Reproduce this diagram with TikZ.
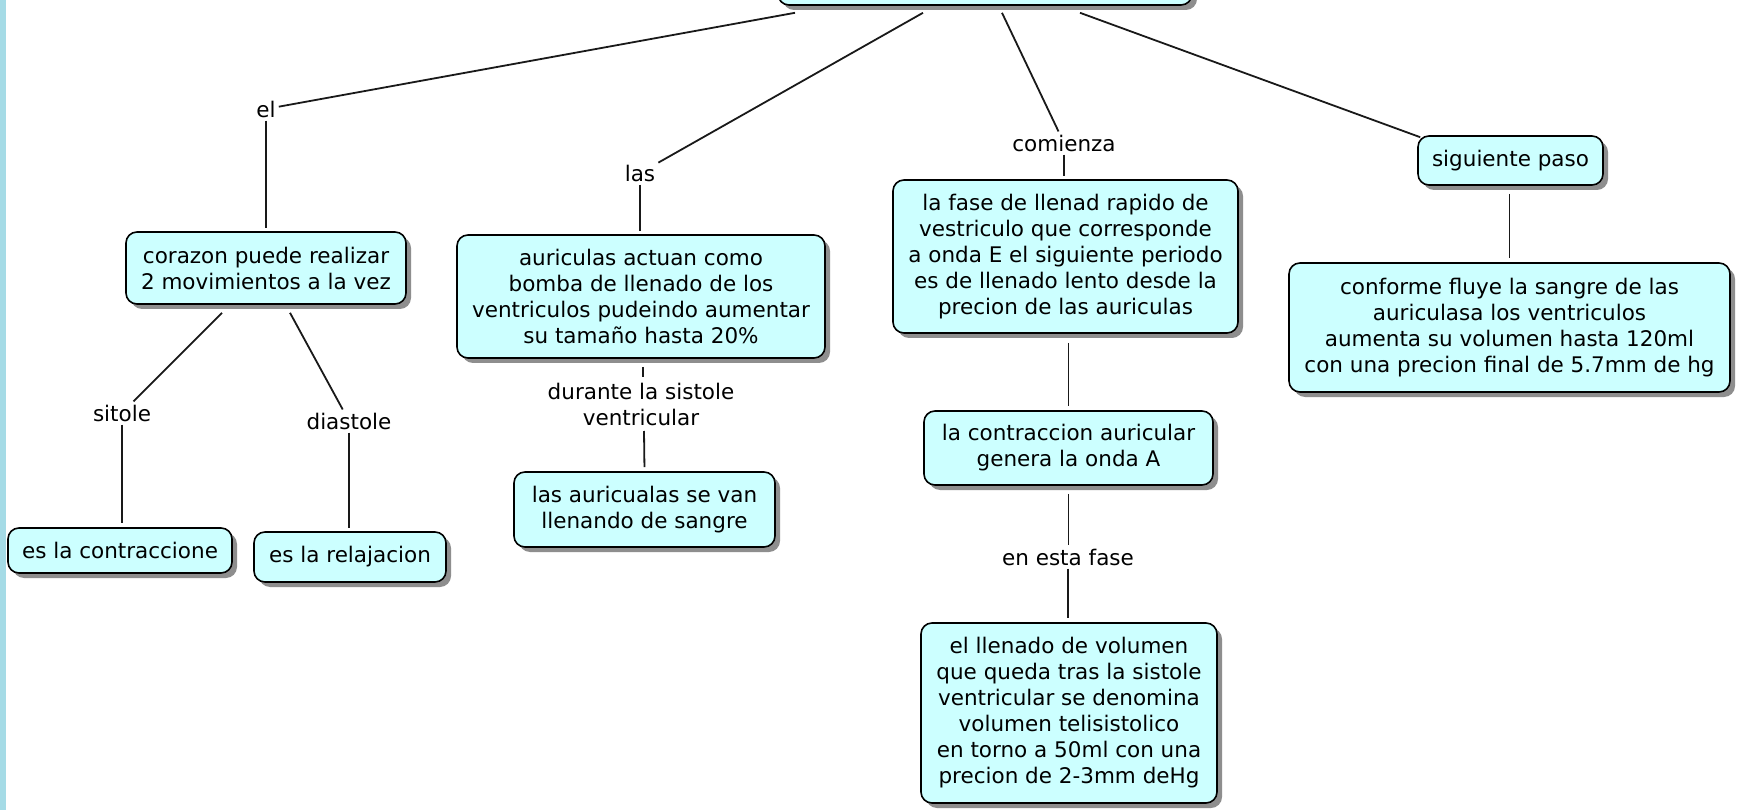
\documentclass[tikz,border=0pt]{standalone}
\usepackage{fontspec}
\setmainfont{DejaVu Sans}
\usetikzlibrary{shadows}
\definecolor{boxfill}{HTML}{CCFFFF}
\definecolor{shadowgray}{HTML}{8E8E8E}
\definecolor{stripblue}{HTML}{A5DBE6}
\begin{document}
\begin{tikzpicture}[x=1pt,y=-1pt,
  concept/.style={draw=black, line width=1.6pt, rounded corners=11pt, fill=boxfill,
    align=center, font=\fontsize{21.5}{26}\selectfont, inner sep=0pt,
    drop shadow={shadow xshift=5pt, shadow yshift=-5pt, fill=shadowgray, opacity=1}},
  linklabel/.style={align=center, font=\fontsize{21.5}{26}\selectfont, inner sep=3pt},
  conn/.style={line width=1.8pt, draw=black!90}]
\clip (0,0) rectangle (1738,810);
\fill[white] (0,0) rectangle (1738,810);
\fill[stripblue] (0,0) rectangle (6,810);

% concepts
\node[concept, minimum width=414pt, minimum height=60pt] (top) at (985,-25) {};
\node[concept, minimum width=280pt, minimum height=72pt] (cor) at (266,268) {corazon puede realizar\\2 movimientos a la vez};
\node[concept, minimum width=224pt, minimum height=45pt] (con) at (120,550.5) {es la contraccione};
\node[concept, minimum width=192pt, minimum height=50pt] (rel) at (350,557) {es la relajacion};
\node[concept, minimum width=368pt, minimum height=123pt] (aur) at (641,296.5) {auriculas actuan como\\bomba de llenado de los\\ventriculos pudeindo aumentar\\su tamaño hasta 20\%};
\node[concept, minimum width=261pt, minimum height=75pt] (lle) at (644.5,509.5) {las auricualas se van\\llenando de sangre};
\node[concept, minimum width=345pt, minimum height=153pt] (fase) at (1065.5,256.5) {la fase de llenad rapido de\\vestriculo que corresponde\\a onda E el siguiente periodo\\es de llenado lento desde la\\precion de las auriculas};
\node[concept, minimum width=289pt, minimum height=74pt] (ca) at (1068.5,448) {la contraccion auricular\\genera la onda A};
\node[concept, minimum width=296pt, minimum height=180pt] (ll) at (1069,713) {el llenado de volumen\\que queda tras la sistole\\ventricular se denomina\\volumen telisistolico\\en torno a 50ml con una\\precion de 2-3mm deHg};
\node[concept, minimum width=185pt, minimum height=49pt] (sig) at (1510.5,160.5) {siguiente paso};
\node[concept, minimum width=441pt, minimum height=129pt] (conf) at (1509.5,327.5) {conforme fluye la sangre de las\\auriculasa los ventriculos\\aumenta su volumen hasta 120ml\\con una precion final de 5.7mm de hg};

% link labels
\node[linklabel] (el) at (266,109) {el};
\node[linklabel] (las) at (640,173) {las};
\node[linklabel] (com) at (1064,143) {comienza};
\node[linklabel] (sit) at (122,413) {sitole};
\node[linklabel] (dia) at (349,421) {diastole};
\node[linklabel] (dur) at (641,404.5) {durante la sistole\\ventricular};
\node[linklabel] (est) at (1068,557) {en esta fase};
\coordinate (durtop) at (643,377);
\coordinate (durbot) at (644,431);

% connectors
\draw[conn] ([xshift=-190pt,yshift=-7pt]top.south) -- (el);
\draw[conn] ([xshift=-62pt,yshift=-7pt]top.south) -- (las);
\draw[conn] ([xshift=17pt,yshift=-7pt]top.south) -- (com);
\draw[conn] ([xshift=95pt,yshift=-7pt]top.south) -- ([xshift=3pt,yshift=-2pt]sig.north west);
\draw[conn, shorten >=3pt] (el) -- (el |- cor.north);
\draw[conn, shorten >=3pt] (las) -- (las |- aur.north);
\draw[conn, shorten >=3pt] (com) -- (com |- fase.north);
\draw[conn, shorten >=4pt] ([yshift=-8pt]sig.south -| conf.north) -- (conf.north);
\draw[conn] ([xshift=-44pt,yshift=-8pt]cor.south) -- (sit);
\draw[conn] ([xshift=24pt,yshift=-8pt]cor.south) -- (dia);
\draw[conn, shorten >=4pt] (sit) -- (sit |- con.north);
\draw[conn, shorten >=3pt] (dia) -- (dia |- rel.north);
\draw[conn] ([yshift=-8pt]aur.south -| durtop) -- (durtop);
\draw[conn, shorten >=4pt] (durbot) -- (lle.north);
\draw[conn, shorten >=4pt] ([yshift=-9pt]fase.south -| ca.north) -- (ca.north);
\draw[conn] ([yshift=-8pt]ca.south) -- (ca.south |- est.north);
\draw[conn, shorten >=4pt] (est) -- (est |- ll.north);
\end{tikzpicture}
\end{document}
